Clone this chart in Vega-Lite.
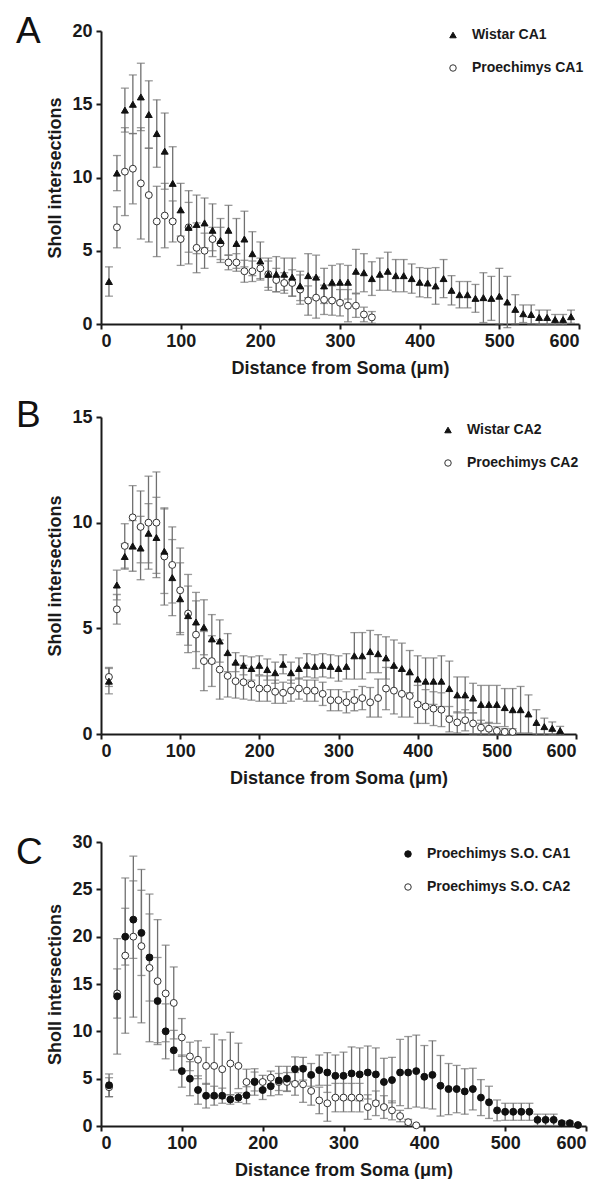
{
  "$schema": "https://vega.github.io/schema/vega-lite/v6.json",
  "padding": {"left": 16, "top": 13, "right": 5, "bottom": 0},
  "spacing": 20,
  "resolve": {"scale": {"shape": "independent", "fill": "independent", "stroke": "independent"}, "legend": {"shape": "independent", "fill": "independent", "stroke": "independent"}},
  "config": {
    "view": {"stroke": null},
    "font": "Liberation Sans",
    "axis": {"grid": false, "domainColor": "#1a1a1a", "domainWidth": 2, "tickColor": "#1a1a1a", "tickWidth": 2, "tickSize": 5, "labelFont": "Liberation Sans", "labelFontSize": 18, "labelFontWeight": "bold", "labelColor": "#1a1a1a", "labelPadding": 3, "titleFont": "Liberation Sans", "titleFontSize": 18, "titleFontWeight": "bold", "titleColor": "#1a1a1a"},
    "axisX": {"titlePadding": 9},
    "axisY": {"titlePadding": 7, "labelPadding": 4},
    "title": {"anchor": "start", "frame": "group", "dx": -85, "baseline": "alphabetic", "fontSize": 37, "fontWeight": "normal", "font": "Liberation Sans", "color": "#111111"},
    "legend": {"orient": "none", "title": null, "labelFont": "Liberation Sans", "labelFontSize": 14, "labelFontWeight": "bold", "labelColor": "#1a1a1a", "symbolSize": 42, "symbolStrokeWidth": 1, "rowPadding": 19, "labelOffset": 12, "padding": 0}
  },
  "datasets": {
    "A": [
      {"d":20,"s":"Proechimys CA1","m":6.6,"e":1.4},{"d":30,"s":"Proechimys CA1","m":10.4,"e":3.0},{"d":40,"s":"Proechimys CA1","m":10.6,"e":2.4},{"d":50,"s":"Proechimys CA1","m":9.6,"e":3.8},{"d":60,"s":"Proechimys CA1","m":8.8,"e":3.2},{"d":70,"s":"Proechimys CA1","m":7.0,"e":2.4},{"d":80,"s":"Proechimys CA1","m":7.4,"e":2.2},{"d":90,"s":"Proechimys CA1","m":7.0,"e":1.4},{"d":100,"s":"Proechimys CA1","m":5.8,"e":1.8},{"d":110,"s":"Proechimys CA1","m":6.6,"e":1.7},{"d":120,"s":"Proechimys CA1","m":5.2,"e":1.7},{"d":130,"s":"Proechimys CA1","m":5.0,"e":1.2},{"d":140,"s":"Proechimys CA1","m":5.8,"e":0.8},{"d":150,"s":"Proechimys CA1","m":5.5,"e":1.1},{"d":160,"s":"Proechimys CA1","m":4.2,"e":0.5},{"d":170,"s":"Proechimys CA1","m":4.2,"e":0.6},{"d":180,"s":"Proechimys CA1","m":3.6,"e":0.75},{"d":190,"s":"Proechimys CA1","m":3.6,"e":0.7},{"d":200,"s":"Proechimys CA1","m":3.8,"e":0.7},{"d":210,"s":"Proechimys CA1","m":3.4,"e":0.9},{"d":220,"s":"Proechimys CA1","m":3.0,"e":0.8},{"d":230,"s":"Proechimys CA1","m":2.8,"e":0.7},{"d":240,"s":"Proechimys CA1","m":2.8,"e":0.9},{"d":250,"s":"Proechimys CA1","m":2.35,"e":1.0},{"d":260,"s":"Proechimys CA1","m":1.6,"e":1.0},{"d":270,"s":"Proechimys CA1","m":1.8,"e":1.4},{"d":280,"s":"Proechimys CA1","m":1.65,"e":1.0},{"d":290,"s":"Proechimys CA1","m":1.6,"e":1.0},{"d":300,"s":"Proechimys CA1","m":1.45,"e":0.9},{"d":310,"s":"Proechimys CA1","m":1.25,"e":1.1},{"d":320,"s":"Proechimys CA1","m":1.25,"e":0.8},{"d":330,"s":"Proechimys CA1","m":0.65,"e":0.5},{"d":340,"s":"Proechimys CA1","m":0.45,"e":0.4},
      {"d":10,"s":"Wistar CA1","m":2.9,"e":1.0},{"d":20,"s":"Wistar CA1","m":10.3,"e":1.2},{"d":30,"s":"Wistar CA1","m":14.6,"e":1.5},{"d":40,"s":"Wistar CA1","m":15.0,"e":2.0},{"d":50,"s":"Wistar CA1","m":15.5,"e":2.3},{"d":60,"s":"Wistar CA1","m":14.3,"e":2.3},{"d":70,"s":"Wistar CA1","m":13.0,"e":2.3},{"d":80,"s":"Wistar CA1","m":11.8,"e":2.6},{"d":90,"s":"Wistar CA1","m":9.6,"e":2.5},{"d":100,"s":"Wistar CA1","m":7.8,"e":1.8},{"d":110,"s":"Wistar CA1","m":6.6,"e":2.5},{"d":120,"s":"Wistar CA1","m":6.8,"e":2.0},{"d":130,"s":"Wistar CA1","m":6.9,"e":1.7},{"d":140,"s":"Wistar CA1","m":6.4,"e":1.8},{"d":150,"s":"Wistar CA1","m":5.7,"e":1.5},{"d":160,"s":"Wistar CA1","m":6.4,"e":1.7},{"d":170,"s":"Wistar CA1","m":5.5,"e":1.7},{"d":180,"s":"Wistar CA1","m":5.8,"e":1.9},{"d":190,"s":"Wistar CA1","m":4.8,"e":1.5},{"d":200,"s":"Wistar CA1","m":4.3,"e":1.3},{"d":210,"s":"Wistar CA1","m":3.4,"e":1.1},{"d":220,"s":"Wistar CA1","m":3.4,"e":1.2},{"d":230,"s":"Wistar CA1","m":3.4,"e":1.1},{"d":240,"s":"Wistar CA1","m":3.2,"e":1.3},{"d":250,"s":"Wistar CA1","m":2.6,"e":1.0},{"d":260,"s":"Wistar CA1","m":3.3,"e":1.5},{"d":270,"s":"Wistar CA1","m":3.2,"e":1.5},{"d":280,"s":"Wistar CA1","m":2.6,"e":1.2},{"d":290,"s":"Wistar CA1","m":2.85,"e":1.15},{"d":300,"s":"Wistar CA1","m":2.85,"e":1.25},{"d":310,"s":"Wistar CA1","m":2.85,"e":1.15},{"d":320,"s":"Wistar CA1","m":3.6,"e":1.5},{"d":330,"s":"Wistar CA1","m":3.5,"e":1.3},{"d":340,"s":"Wistar CA1","m":3.1,"e":1.15},{"d":350,"s":"Wistar CA1","m":3.4,"e":1.1},{"d":360,"s":"Wistar CA1","m":3.6,"e":1.3},{"d":370,"s":"Wistar CA1","m":3.3,"e":1.1},{"d":380,"s":"Wistar CA1","m":3.3,"e":1.1},{"d":390,"s":"Wistar CA1","m":3.1,"e":1.0},{"d":400,"s":"Wistar CA1","m":2.85,"e":1.0},{"d":410,"s":"Wistar CA1","m":2.8,"e":1.0},{"d":420,"s":"Wistar CA1","m":2.6,"e":1.25},{"d":430,"s":"Wistar CA1","m":3.1,"e":1.3},{"d":440,"s":"Wistar CA1","m":2.3,"e":1.0},{"d":450,"s":"Wistar CA1","m":2.0,"e":0.9},{"d":460,"s":"Wistar CA1","m":2.0,"e":0.9},{"d":470,"s":"Wistar CA1","m":1.75,"e":0.95},{"d":480,"s":"Wistar CA1","m":1.8,"e":1.7},{"d":490,"s":"Wistar CA1","m":1.75,"e":1.5},{"d":500,"s":"Wistar CA1","m":1.9,"e":1.9},{"d":510,"s":"Wistar CA1","m":1.5,"e":1.75},{"d":520,"s":"Wistar CA1","m":1.0,"e":1.0},{"d":530,"s":"Wistar CA1","m":0.7,"e":0.6},{"d":540,"s":"Wistar CA1","m":0.65,"e":0.65},{"d":550,"s":"Wistar CA1","m":0.45,"e":0.5},{"d":560,"s":"Wistar CA1","m":0.45,"e":0.5},{"d":570,"s":"Wistar CA1","m":0.3,"e":0.35},{"d":580,"s":"Wistar CA1","m":0.3,"e":0.35},{"d":590,"s":"Wistar CA1","m":0.5,"e":0.45}
    ],
    "B": [
      {"d":10,"s":"Proechimys CA2","m":2.7,"e":0.45},{"d":20,"s":"Proechimys CA2","m":5.9,"e":0.7},{"d":30,"s":"Proechimys CA2","m":8.9,"e":1.05},{"d":40,"s":"Proechimys CA2","m":10.25,"e":1.5},{"d":50,"s":"Proechimys CA2","m":9.8,"e":1.7},{"d":60,"s":"Proechimys CA2","m":10.0,"e":2.2},{"d":70,"s":"Proechimys CA2","m":10.0,"e":2.4},{"d":80,"s":"Proechimys CA2","m":8.4,"e":2.3},{"d":90,"s":"Proechimys CA2","m":8.0,"e":1.8},{"d":100,"s":"Proechimys CA2","m":6.8,"e":2.0},{"d":110,"s":"Proechimys CA2","m":5.7,"e":1.85},{"d":120,"s":"Proechimys CA2","m":4.7,"e":1.6},{"d":130,"s":"Proechimys CA2","m":3.45,"e":1.4},{"d":140,"s":"Proechimys CA2","m":3.45,"e":1.2},{"d":150,"s":"Proechimys CA2","m":3.05,"e":1.4},{"d":160,"s":"Proechimys CA2","m":2.75,"e":1.0},{"d":170,"s":"Proechimys CA2","m":2.5,"e":0.8},{"d":180,"s":"Proechimys CA2","m":2.45,"e":0.8},{"d":190,"s":"Proechimys CA2","m":2.35,"e":0.75},{"d":200,"s":"Proechimys CA2","m":2.15,"e":0.6},{"d":210,"s":"Proechimys CA2","m":2.15,"e":0.6},{"d":220,"s":"Proechimys CA2","m":2.0,"e":0.55},{"d":230,"s":"Proechimys CA2","m":1.95,"e":0.5},{"d":240,"s":"Proechimys CA2","m":2.05,"e":0.5},{"d":250,"s":"Proechimys CA2","m":2.15,"e":0.5},{"d":260,"s":"Proechimys CA2","m":2.05,"e":0.5},{"d":270,"s":"Proechimys CA2","m":2.05,"e":0.5},{"d":280,"s":"Proechimys CA2","m":1.9,"e":0.55},{"d":290,"s":"Proechimys CA2","m":1.6,"e":0.5},{"d":300,"s":"Proechimys CA2","m":1.6,"e":0.5},{"d":310,"s":"Proechimys CA2","m":1.5,"e":0.5},{"d":320,"s":"Proechimys CA2","m":1.6,"e":0.5},{"d":330,"s":"Proechimys CA2","m":1.7,"e":0.55},{"d":340,"s":"Proechimys CA2","m":1.5,"e":0.7},{"d":350,"s":"Proechimys CA2","m":1.7,"e":0.9},{"d":360,"s":"Proechimys CA2","m":2.15,"e":1.0},{"d":370,"s":"Proechimys CA2","m":2.05,"e":1.1},{"d":380,"s":"Proechimys CA2","m":1.9,"e":1.1},{"d":390,"s":"Proechimys CA2","m":1.8,"e":1.0},{"d":400,"s":"Proechimys CA2","m":1.4,"e":0.9},{"d":410,"s":"Proechimys CA2","m":1.3,"e":0.8},{"d":420,"s":"Proechimys CA2","m":1.2,"e":0.8},{"d":430,"s":"Proechimys CA2","m":1.15,"e":0.8},{"d":440,"s":"Proechimys CA2","m":0.7,"e":0.6},{"d":450,"s":"Proechimys CA2","m":0.55,"e":0.5},{"d":460,"s":"Proechimys CA2","m":0.65,"e":0.5},{"d":470,"s":"Proechimys CA2","m":0.5,"e":0.5},{"d":480,"s":"Proechimys CA2","m":0.3,"e":0.35},{"d":490,"s":"Proechimys CA2","m":0.25,"e":0.3},{"d":500,"s":"Proechimys CA2","m":0.15,"e":0.2},{"d":510,"s":"Proechimys CA2","m":0.1,"e":0.15},{"d":520,"s":"Proechimys CA2","m":0.1,"e":0.15},
      {"d":10,"s":"Wistar CA2","m":2.5,"e":0.6},{"d":20,"s":"Wistar CA2","m":7.05,"e":0.7},{"d":30,"s":"Wistar CA2","m":8.4,"e":0.6},{"d":40,"s":"Wistar CA2","m":8.9,"e":1.2},{"d":50,"s":"Wistar CA2","m":8.8,"e":1.5},{"d":60,"s":"Wistar CA2","m":9.5,"e":1.4},{"d":70,"s":"Wistar CA2","m":9.3,"e":1.9},{"d":80,"s":"Wistar CA2","m":8.65,"e":2.0},{"d":90,"s":"Wistar CA2","m":7.4,"e":1.8},{"d":100,"s":"Wistar CA2","m":6.4,"e":1.7},{"d":110,"s":"Wistar CA2","m":5.6,"e":1.4},{"d":120,"s":"Wistar CA2","m":5.3,"e":1.4},{"d":130,"s":"Wistar CA2","m":5.05,"e":1.3},{"d":140,"s":"Wistar CA2","m":4.5,"e":1.15},{"d":150,"s":"Wistar CA2","m":4.4,"e":1.0},{"d":160,"s":"Wistar CA2","m":3.85,"e":0.9},{"d":170,"s":"Wistar CA2","m":3.4,"e":0.45},{"d":180,"s":"Wistar CA2","m":3.25,"e":0.45},{"d":190,"s":"Wistar CA2","m":3.1,"e":0.55},{"d":200,"s":"Wistar CA2","m":3.25,"e":0.45},{"d":210,"s":"Wistar CA2","m":3.05,"e":0.5},{"d":220,"s":"Wistar CA2","m":2.9,"e":0.5},{"d":230,"s":"Wistar CA2","m":3.3,"e":0.45},{"d":240,"s":"Wistar CA2","m":2.9,"e":0.5},{"d":250,"s":"Wistar CA2","m":3.1,"e":0.5},{"d":260,"s":"Wistar CA2","m":3.25,"e":0.55},{"d":270,"s":"Wistar CA2","m":3.2,"e":0.55},{"d":280,"s":"Wistar CA2","m":3.25,"e":0.55},{"d":290,"s":"Wistar CA2","m":3.2,"e":0.55},{"d":300,"s":"Wistar CA2","m":3.1,"e":0.6},{"d":310,"s":"Wistar CA2","m":3.2,"e":0.6},{"d":320,"s":"Wistar CA2","m":3.7,"e":1.1},{"d":330,"s":"Wistar CA2","m":3.7,"e":1.1},{"d":340,"s":"Wistar CA2","m":3.9,"e":1.0},{"d":350,"s":"Wistar CA2","m":3.8,"e":0.9},{"d":360,"s":"Wistar CA2","m":3.6,"e":1.0},{"d":370,"s":"Wistar CA2","m":3.25,"e":1.2},{"d":380,"s":"Wistar CA2","m":3.1,"e":1.2},{"d":390,"s":"Wistar CA2","m":2.95,"e":1.0},{"d":400,"s":"Wistar CA2","m":2.6,"e":1.1},{"d":410,"s":"Wistar CA2","m":2.5,"e":1.1},{"d":420,"s":"Wistar CA2","m":2.5,"e":1.1},{"d":430,"s":"Wistar CA2","m":2.5,"e":1.2},{"d":440,"s":"Wistar CA2","m":2.15,"e":1.3},{"d":450,"s":"Wistar CA2","m":1.85,"e":0.85},{"d":460,"s":"Wistar CA2","m":1.85,"e":0.85},{"d":470,"s":"Wistar CA2","m":1.7,"e":0.7},{"d":480,"s":"Wistar CA2","m":1.4,"e":0.9},{"d":490,"s":"Wistar CA2","m":1.4,"e":0.9},{"d":500,"s":"Wistar CA2","m":1.4,"e":0.9},{"d":510,"s":"Wistar CA2","m":1.25,"e":0.9},{"d":520,"s":"Wistar CA2","m":1.15,"e":1.0},{"d":530,"s":"Wistar CA2","m":1.15,"e":1.1},{"d":540,"s":"Wistar CA2","m":0.95,"e":0.9},{"d":550,"s":"Wistar CA2","m":0.55,"e":0.6},{"d":560,"s":"Wistar CA2","m":0.35,"e":0.4},{"d":570,"s":"Wistar CA2","m":0.27,"e":0.3},{"d":580,"s":"Wistar CA2","m":0.16,"e":0.2}
    ],
    "C": [
      {"d":10,"s":"Proechimys S.O. CA2","m":4.1,"e":1.0},{"d":20,"s":"Proechimys S.O. CA2","m":14.0,"e":2.6},{"d":30,"s":"Proechimys S.O. CA2","m":18.0,"e":8.2},{"d":40,"s":"Proechimys S.O. CA2","m":20.0,"e":8.5},{"d":50,"s":"Proechimys S.O. CA2","m":19.0,"e":8.1},{"d":60,"s":"Proechimys S.O. CA2","m":16.7,"e":7.8},{"d":70,"s":"Proechimys S.O. CA2","m":15.3,"e":6.5},{"d":80,"s":"Proechimys S.O. CA2","m":14.0,"e":5.1},{"d":90,"s":"Proechimys S.O. CA2","m":13.0,"e":3.8},{"d":100,"s":"Proechimys S.O. CA2","m":9.35,"e":2.0},{"d":110,"s":"Proechimys S.O. CA2","m":7.35,"e":1.5},{"d":120,"s":"Proechimys S.O. CA2","m":7.0,"e":2.0},{"d":130,"s":"Proechimys S.O. CA2","m":6.35,"e":1.95},{"d":140,"s":"Proechimys S.O. CA2","m":6.35,"e":3.35},{"d":150,"s":"Proechimys S.O. CA2","m":6.0,"e":3.1},{"d":160,"s":"Proechimys S.O. CA2","m":6.6,"e":3.3},{"d":170,"s":"Proechimys S.O. CA2","m":6.35,"e":2.4},{"d":180,"s":"Proechimys S.O. CA2","m":4.65,"e":1.35},{"d":190,"s":"Proechimys S.O. CA2","m":4.7,"e":1.0},{"d":200,"s":"Proechimys S.O. CA2","m":4.65,"e":0.7},{"d":210,"s":"Proechimys S.O. CA2","m":5.1,"e":0.7},{"d":220,"s":"Proechimys S.O. CA2","m":4.65,"e":0.9},{"d":230,"s":"Proechimys S.O. CA2","m":4.65,"e":1.0},{"d":240,"s":"Proechimys S.O. CA2","m":4.45,"e":1.2},{"d":250,"s":"Proechimys S.O. CA2","m":4.4,"e":1.9},{"d":260,"s":"Proechimys S.O. CA2","m":3.7,"e":1.5},{"d":270,"s":"Proechimys S.O. CA2","m":2.7,"e":1.4},{"d":280,"s":"Proechimys S.O. CA2","m":2.4,"e":1.9},{"d":290,"s":"Proechimys S.O. CA2","m":3.0,"e":1.5},{"d":300,"s":"Proechimys S.O. CA2","m":3.0,"e":1.5},{"d":310,"s":"Proechimys S.O. CA2","m":3.0,"e":1.5},{"d":320,"s":"Proechimys S.O. CA2","m":3.0,"e":1.5},{"d":330,"s":"Proechimys S.O. CA2","m":2.0,"e":1.3},{"d":340,"s":"Proechimys S.O. CA2","m":2.4,"e":1.3},{"d":350,"s":"Proechimys S.O. CA2","m":2.0,"e":1.2},{"d":360,"s":"Proechimys S.O. CA2","m":1.65,"e":1.0},{"d":370,"s":"Proechimys S.O. CA2","m":1.05,"e":0.6},{"d":380,"s":"Proechimys S.O. CA2","m":0.4,"e":0.3},{"d":390,"s":"Proechimys S.O. CA2","m":0.07,"e":0.1},
      {"d":10,"s":"Proechimys S.O. CA1","m":4.3,"e":1.2},{"d":20,"s":"Proechimys S.O. CA1","m":13.7,"e":6.1},{"d":30,"s":"Proechimys S.O. CA1","m":20.0,"e":3.0},{"d":40,"s":"Proechimys S.O. CA1","m":21.8,"e":4.1},{"d":50,"s":"Proechimys S.O. CA1","m":20.4,"e":4.5},{"d":60,"s":"Proechimys S.O. CA1","m":17.8,"e":4.6},{"d":70,"s":"Proechimys S.O. CA1","m":13.2,"e":4.6},{"d":80,"s":"Proechimys S.O. CA1","m":10.0,"e":2.9},{"d":90,"s":"Proechimys S.O. CA1","m":8.0,"e":2.1},{"d":100,"s":"Proechimys S.O. CA1","m":5.8,"e":1.7},{"d":110,"s":"Proechimys S.O. CA1","m":5.0,"e":1.8},{"d":120,"s":"Proechimys S.O. CA1","m":3.8,"e":1.5},{"d":130,"s":"Proechimys S.O. CA1","m":3.2,"e":1.3},{"d":140,"s":"Proechimys S.O. CA1","m":3.2,"e":1.0},{"d":150,"s":"Proechimys S.O. CA1","m":3.2,"e":0.8},{"d":160,"s":"Proechimys S.O. CA1","m":2.8,"e":0.5},{"d":170,"s":"Proechimys S.O. CA1","m":3.0,"e":0.5},{"d":180,"s":"Proechimys S.O. CA1","m":3.25,"e":0.9},{"d":190,"s":"Proechimys S.O. CA1","m":4.65,"e":1.4},{"d":200,"s":"Proechimys S.O. CA1","m":3.8,"e":1.0},{"d":210,"s":"Proechimys S.O. CA1","m":4.2,"e":1.0},{"d":220,"s":"Proechimys S.O. CA1","m":4.8,"e":1.5},{"d":230,"s":"Proechimys S.O. CA1","m":5.0,"e":1.3},{"d":240,"s":"Proechimys S.O. CA1","m":6.0,"e":1.3},{"d":250,"s":"Proechimys S.O. CA1","m":6.05,"e":1.2},{"d":260,"s":"Proechimys S.O. CA1","m":5.4,"e":1.2},{"d":270,"s":"Proechimys S.O. CA1","m":5.9,"e":1.6},{"d":280,"s":"Proechimys S.O. CA1","m":5.65,"e":2.1},{"d":290,"s":"Proechimys S.O. CA1","m":5.3,"e":2.2},{"d":300,"s":"Proechimys S.O. CA1","m":5.3,"e":2.5},{"d":310,"s":"Proechimys S.O. CA1","m":5.55,"e":2.8},{"d":320,"s":"Proechimys S.O. CA1","m":5.45,"e":2.8},{"d":330,"s":"Proechimys S.O. CA1","m":5.65,"e":2.8},{"d":340,"s":"Proechimys S.O. CA1","m":5.45,"e":2.8},{"d":350,"s":"Proechimys S.O. CA1","m":4.65,"e":2.5},{"d":360,"s":"Proechimys S.O. CA1","m":4.85,"e":2.4},{"d":370,"s":"Proechimys S.O. CA1","m":5.65,"e":3.5},{"d":380,"s":"Proechimys S.O. CA1","m":5.65,"e":3.8},{"d":390,"s":"Proechimys S.O. CA1","m":5.8,"e":3.8},{"d":400,"s":"Proechimys S.O. CA1","m":5.2,"e":3.3},{"d":410,"s":"Proechimys S.O. CA1","m":5.4,"e":3.6},{"d":420,"s":"Proechimys S.O. CA1","m":4.25,"e":3.2},{"d":430,"s":"Proechimys S.O. CA1","m":3.9,"e":2.7},{"d":440,"s":"Proechimys S.O. CA1","m":3.9,"e":2.5},{"d":450,"s":"Proechimys S.O. CA1","m":3.65,"e":2.4},{"d":460,"s":"Proechimys S.O. CA1","m":3.9,"e":2.2},{"d":470,"s":"Proechimys S.O. CA1","m":3.0,"e":1.9},{"d":480,"s":"Proechimys S.O. CA1","m":2.5,"e":1.7},{"d":490,"s":"Proechimys S.O. CA1","m":1.65,"e":1.1},{"d":500,"s":"Proechimys S.O. CA1","m":1.5,"e":0.9},{"d":510,"s":"Proechimys S.O. CA1","m":1.5,"e":0.9},{"d":520,"s":"Proechimys S.O. CA1","m":1.5,"e":0.9},{"d":530,"s":"Proechimys S.O. CA1","m":1.5,"e":0.9},{"d":540,"s":"Proechimys S.O. CA1","m":0.65,"e":0.6},{"d":550,"s":"Proechimys S.O. CA1","m":0.65,"e":0.6},{"d":560,"s":"Proechimys S.O. CA1","m":0.65,"e":0.6},{"d":570,"s":"Proechimys S.O. CA1","m":0.3,"e":0.2},{"d":580,"s":"Proechimys S.O. CA1","m":0.3,"e":0.2},{"d":590,"s":"Proechimys S.O. CA1","m":0.1,"e":0.1}
    ]
  },
  "vconcat": [
    {
      "width": 478, "height": 293,
      "title": {"text": "A", "offset": -29},
      "data": {"name": "A"},
      "encoding": {
        "x": {"field": "d", "type": "quantitative", "scale": {"domain": [0, 600], "nice": false}, "axis": {"values": [0, 100, 200, 300, 400, 500, 600], "title": "Distance from Soma (μm)"}},
        "y": {"field": "m", "type": "quantitative", "scale": {"domain": [0, 20], "nice": false}, "axis": {"values": [0, 5, 10, 15, 20], "title": "Sholl intersections"}}
      },
      "layer": [
        {"mark": {"type": "errorbar", "color": "#707070", "thickness": 1.3, "ticks": {"size": 8, "thickness": 1.3}}, "encoding": {"yError": {"field": "e"}}},
        {"mark": {"type": "point", "opacity": 1, "strokeWidth": 1, "size": 48},
         "encoding": {
           "shape": {"field": "s", "type": "nominal", "scale": {"domain": ["Wistar CA1", "Proechimys CA1"], "range": ["triangle-up", "circle"]}, "legend": {"legendX": 345, "legendY": -3}},
           "fill": {"field": "s", "type": "nominal", "scale": {"domain": ["Wistar CA1", "Proechimys CA1"], "range": ["#111111", "#ffffff"]}, "legend": {"legendX": 345, "legendY": -3}},
           "stroke": {"field": "s", "type": "nominal", "scale": {"domain": ["Wistar CA1", "Proechimys CA1"], "range": ["#111111", "#333333"]}, "legend": {"legendX": 345, "legendY": -3}}
         }}
      ]
    },
    {
      "spacing": 46,
      "resolve": {"scale": {"shape": "independent", "fill": "independent", "stroke": "independent"}, "legend": {"shape": "independent", "fill": "independent", "stroke": "independent"}},
      "vconcat": [
        {
          "width": 475, "height": 317,
          "title": {"text": "B", "offset": -27},
          "data": {"name": "B"},
          "encoding": {
            "x": {"field": "d", "type": "quantitative", "scale": {"domain": [0, 600], "nice": false}, "axis": {"values": [0, 100, 200, 300, 400, 500, 600], "title": "Distance from Soma (μm)"}},
            "y": {"field": "m", "type": "quantitative", "scale": {"domain": [0, 15], "nice": false}, "axis": {"values": [0, 5, 10, 15], "title": "Sholl intersections"}}
          },
          "layer": [
            {"mark": {"type": "errorbar", "color": "#707070", "thickness": 1.3, "ticks": {"size": 8, "thickness": 1.3}}, "encoding": {"yError": {"field": "e"}}},
            {"mark": {"type": "point", "opacity": 1, "strokeWidth": 1, "size": 48},
             "encoding": {
               "shape": {"field": "s", "type": "nominal", "scale": {"domain": ["Wistar CA2", "Proechimys CA2"], "range": ["triangle-up", "circle"]}, "legend": {"legendX": 340, "legendY": 6}},
               "fill": {"field": "s", "type": "nominal", "scale": {"domain": ["Wistar CA2", "Proechimys CA2"], "range": ["#111111", "#ffffff"]}, "legend": {"legendX": 340, "legendY": 6}},
               "stroke": {"field": "s", "type": "nominal", "scale": {"domain": ["Wistar CA2", "Proechimys CA2"], "range": ["#111111", "#333333"]}, "legend": {"legendX": 340, "legendY": 6}}
             }}
          ]
        },
        {
          "width": 485, "height": 284,
          "title": {"text": "C", "offset": -39},
          "data": {"name": "C"},
          "encoding": {
            "x": {"field": "d", "type": "quantitative", "scale": {"domain": [0, 600], "nice": false}, "axis": {"values": [0, 100, 200, 300, 400, 500, 600], "title": "Distance from Soma (μm)"}},
            "y": {"field": "m", "type": "quantitative", "scale": {"domain": [0, 30], "nice": false}, "axis": {"values": [0, 5, 10, 15, 20, 25, 30], "title": "Sholl intersections"}}
          },
          "layer": [
            {"mark": {"type": "errorbar", "color": "#707070", "thickness": 1.3, "ticks": {"size": 8, "thickness": 1.3}}, "encoding": {"yError": {"field": "e"}}},
            {"mark": {"type": "point", "opacity": 1, "strokeWidth": 1, "size": 48},
             "encoding": {
               "shape": {"field": "s", "type": "nominal", "scale": {"domain": ["Proechimys S.O. CA1", "Proechimys S.O. CA2"], "range": ["circle", "circle"]}, "legend": {"legendX": 300, "legendY": 5}},
               "fill": {"field": "s", "type": "nominal", "scale": {"domain": ["Proechimys S.O. CA1", "Proechimys S.O. CA2"], "range": ["#111111", "#ffffff"]}, "legend": {"legendX": 300, "legendY": 5}},
               "stroke": {"field": "s", "type": "nominal", "scale": {"domain": ["Proechimys S.O. CA1", "Proechimys S.O. CA2"], "range": ["#111111", "#333333"]}, "legend": {"legendX": 300, "legendY": 5}}
             }}
          ]
        }
      ]
    }
  ]
}
